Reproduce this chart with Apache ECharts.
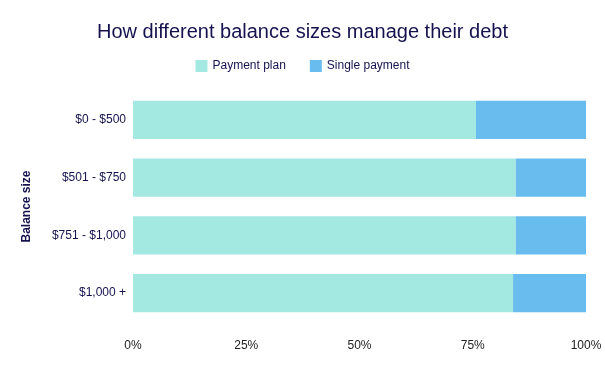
<!DOCTYPE html>
<html><head><meta charset="utf-8">
<script src="https://cdn.jsdelivr.net/npm/echarts@6/dist/echarts.min.js"></script>
<style>html,body{margin:0;padding:0;background:#fff}#c{width:605px;height:371px}</style>
</head><body><div id="c"></div>
<script>
const categories = ["$0 - $500", "$501 - $750", "$751 - $1,000", "$1,000 +"];
const paymentPlan = [75.7, 84.5, 84.5, 83.9];
const singlePayment = [24.3, 15.5, 15.5, 16.1];
const xTicks = [0, 25, 50, 75, 100];

const chart = echarts.init(document.getElementById('c'));
const font = 'Liberation Sans, Arial, sans-serif';
chart.setOption({
  animation: false,
  title: {
    text: 'How different balance sizes manage their debt',
    left: 'center', top: 17,
    textStyle: {fontFamily: font, fontSize: 20, fontWeight: 'normal', color: '#15124f'}
  },
  legend: {
    top: 55, left: 'center', itemWidth: 12, itemHeight: 12, itemGap: 24,
    icon: 'rect',
    textStyle: {fontFamily: font, fontSize: 12, color: '#15124f'}
  },
  grid: {left: 133, right: 19, top: 91, bottom: 49},
  xAxis: {
    type: 'value', min: 0, max: 100, interval: 25,
    splitLine: {show: false}, axisLine: {show: false}, axisTick: {show: false},
    axisLabel: {fontFamily: font, fontSize: 12, color: '#222', margin: 18,
      formatter: v => xTicks.includes(v) ? v + '%' : ''}
  },
  yAxis: {
    type: 'category', data: categories, inverse: true,
    name: 'Balance size', nameLocation: 'middle', nameGap: 100, nameRotate: 90,
    nameTextStyle: {fontFamily: font, fontSize: 12, fontWeight: 'bold', color: '#15124f'},
    axisLine: {show: false}, axisTick: {show: false},
    axisLabel: {fontFamily: font, fontSize: 12, color: '#15124f', margin: 7}
  },
  series: [
    {name: 'Payment plan', type: 'bar', stack: 'a', data: paymentPlan, barCategoryGap: '34%',
     itemStyle: {color: '#a3e9e1'}},
    {name: 'Single payment', type: 'bar', stack: 'a', data: singlePayment,
     itemStyle: {color: '#68bdee'}}
  ]
});
</script></body></html>
